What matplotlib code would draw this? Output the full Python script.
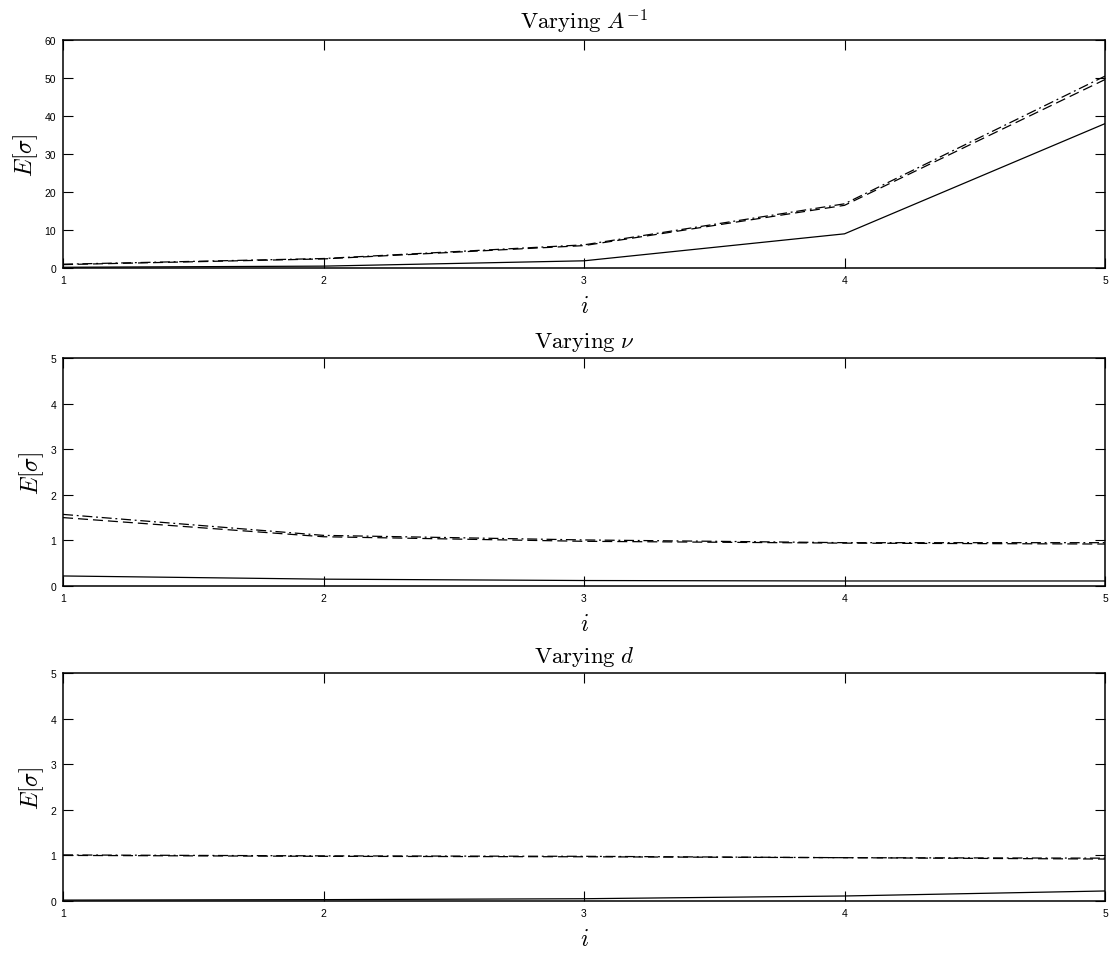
import matplotlib
matplotlib.use("Agg")
import matplotlib.pyplot as plt

plt.rcParams['mathtext.fontset'] = 'cm'
plt.rcParams['font.family'] = ['Liberation Sans', 'DejaVu Sans']

i_vals = [1, 2, 3, 4, 5]

# Varying A^-1
a_solid = [0.2, 0.5, 1.9, 9.0, 38.0]
a_dashed = [0.9, 2.4, 5.9, 16.5, 49.6]
a_dashdot = [1.0, 2.5, 6.1, 16.9, 50.5]

# Varying nu
nu_solid = [0.22, 0.15, 0.12, 0.11, 0.11]
nu_dashed = [1.50, 1.08, 0.98, 0.94, 0.92]
nu_dashdot = [1.57, 1.11, 1.01, 0.95, 0.95]

# Varying d
d_solid = [0.02, 0.03, 0.05, 0.11, 0.22]
d_dashed = [1.00, 0.98, 0.97, 0.95, 0.92]
d_dashdot = [1.01, 0.99, 0.98, 0.95, 0.94]

titles = [r'$\mathrm{Varying}\ A^{-1}$', r'$\mathrm{Varying}\ \nu$', r'$\mathrm{Varying}\ d$']
y_ticks = [[0, 10, 20, 30, 40, 50, 60], [0, 1, 2, 3, 4, 5], [0, 1, 2, 3, 4, 5]]
panels = [(a_solid, a_dashed, a_dashdot),
          (nu_solid, nu_dashed, nu_dashdot),
          (d_solid, d_dashed, d_dashdot)]

fig = plt.figure(figsize=(11.1, 9.54), dpi=100)
bottoms = [0.718, 0.3847, 0.0545]
for k, (solid, dashed, dashdot) in enumerate(panels):
    ax = fig.add_axes([0.0568, bottoms[k], 0.9387, 0.239])
    ax.plot(i_vals, solid, color='black', lw=0.9, linestyle='-')
    ax.plot(i_vals, dashed, color='black', lw=0.9, linestyle=(0, (8, 4)))
    ax.plot(i_vals, dashdot, color='black', lw=0.9, linestyle=(0, (8, 3, 1.5, 3)))

    ax.set_xlim(1, 5)
    ax.set_ylim(y_ticks[k][0], y_ticks[k][-1])
    ax.set_xticks(i_vals)
    ax.set_yticks(y_ticks[k])
    ax.tick_params(direction='in', length=7, width=0.8, labelsize=7.5,
                   top=True, right=True, pad=5)
    for sp in ax.spines.values():
        sp.set_linewidth(1.1)

    ax.set_title(titles[k], fontsize=16.5, pad=8)
    ax.set_xlabel(r'$i$', fontsize=17, labelpad=7)
    ax.set_ylabel(r'$E[\sigma]$', fontsize=17, labelpad=3)

fig.savefig('out.png', dpi=100)
